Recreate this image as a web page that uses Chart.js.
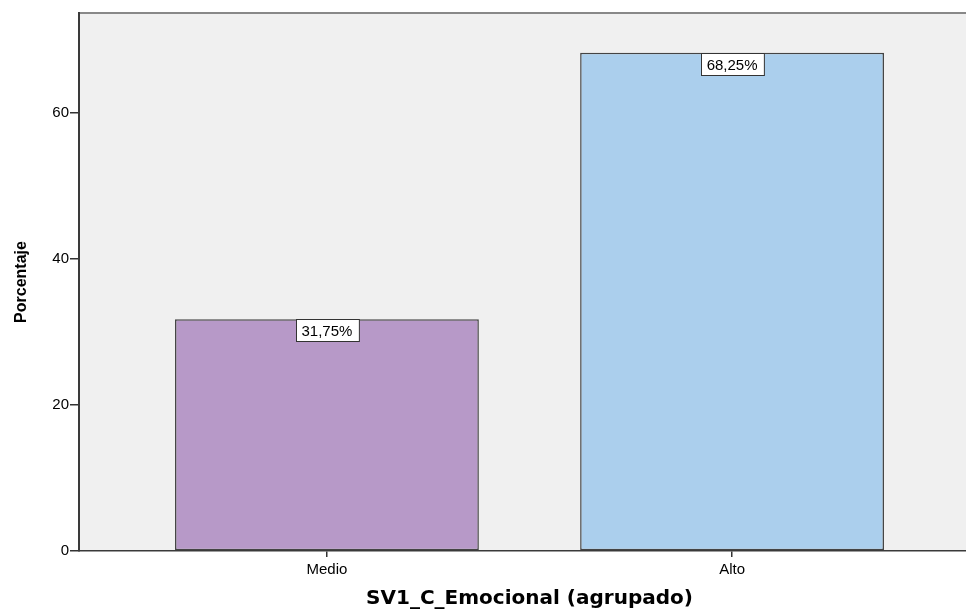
<!DOCTYPE html>
<html>
<head>
<meta charset="utf-8">
<script src="https://cdn.jsdelivr.net/npm/chart.js@4"></script>
<style>
    html, body { margin: 0; padding: 0; background: #fff; overflow: hidden; }
    #wrap { width: 980px; height: 611px; }
</style>
</head>
<body>
<div id="wrap"><canvas id="myChart"></canvas></div>
<script>
const categories = ['Medio', 'Alto'];
const percentages = [31.75, 68.25];
const barLabels = ['31,75%', '68,25%'];
const barColors = ['#b799c8', '#abcfed'];
const yTicks = [0, 20, 40, 60];

// fondo gris del área del gráfico
const plotBackground = {
    id: 'plotBackground',
    beforeDraw(chart) {
        const { ctx, chartArea: a } = chart;
        ctx.save();
        ctx.fillStyle = '#f0f0f0';
        ctx.fillRect(a.left, a.top, a.right - a.left, a.bottom - a.top);
        ctx.strokeStyle = '#888';
        ctx.lineWidth = 2;
        ctx.beginPath();
        ctx.moveTo(a.left, a.top);
        ctx.lineTo(a.right, a.top);
        ctx.stroke();
        ctx.restore();
    }
};

// etiquetas con recuadro blanco en la parte superior de cada barra
const boxLabels = {
    id: 'boxLabels',
    afterDatasetsDraw(chart) {
        const { ctx } = chart;
        const meta = chart.getDatasetMeta(0);
        ctx.save();
        ctx.font = '15px "Liberation Sans", Arial, sans-serif';
        ctx.textAlign = 'center';
        ctx.textBaseline = 'middle';
        meta.data.forEach((bar, i) => {
            const text = barLabels[i];
            const w = ctx.measureText(text).width + 12;
            const h = 22;
            const x = Math.round(bar.x - w / 2) + 0.5;
            const y = Math.round(bar.y) + 0.5;
            ctx.fillStyle = '#fff';
            ctx.fillRect(x, y, w, h);
            ctx.strokeStyle = '#333';
            ctx.lineWidth = 1;
            ctx.strokeRect(x, y, w, h);
            ctx.fillStyle = '#000';
            ctx.fillText(text, bar.x, y + h / 2 + 1);
        });
        ctx.restore();
    }
};

const ctx = document.getElementById('myChart').getContext('2d');
const myChart = new Chart(ctx, {
    type: 'bar',
    data: {
        datasets: [{
            data: percentages.map((v, i) => ({ x: i + 1, y: v })),
            backgroundColor: barColors,
            borderColor: '#444',
            borderWidth: 1.5,
            borderSkipped: false,
            barPercentage: 0.75,
            categoryPercentage: 1
        }]
    },
    options: {
        responsive: true,
        maintainAspectRatio: false,
        animation: false,
        layout: { padding: { top: 13, right: 0, left: 0, bottom: 0 } },
        plugins: {
            legend: { display: false },
            tooltip: { enabled: false }
        },
        scales: {
            x: {
                type: 'linear',
                offset: false,
                min: 0.388,
                max: 2.612,
                afterBuildTicks: (scale) => {
                    scale.ticks = categories.map((c, i) => ({ value: i + 1 }));
                },
                afterFit: (scale) => { scale.height = 60; },
                ticks: {
                    callback: (v) => categories[v - 1],
                    color: '#000',
                    padding: 4,
                    maxRotation: 0,
                    font: { family: '"Liberation Sans", Arial, sans-serif', size: 15 }
                },
                grid: { drawOnChartArea: false, offset: false, tickLength: 6, color: '#333', lineWidth: 1.5 },
                border: { color: '#3a3a3a', width: 1.5 },
                title: {
                    display: true,
                    text: 'SV1_C_Emocional (agrupado)',
                    color: '#000',
                    padding: { top: 3, bottom: 0 },
                    font: { family: '"DejaVu Sans", sans-serif', size: 20, weight: 'bold' }
                }
            },
            y: {
                min: 0,
                max: 73.7,
                afterBuildTicks: (scale) => {
                    scale.ticks = yTicks.map(v => ({ value: v }));
                },
                afterFit: (scale) => { scale.width = 79; },
                ticks: {
                    color: '#000',
                    padding: 1,
                    font: { family: '"Liberation Sans", Arial, sans-serif', size: 15 }
                },
                grid: { drawOnChartArea: false, tickLength: 9, color: '#333', lineWidth: 1.5 },
                border: { color: '#3a3a3a', width: 2 },
                title: {
                    display: true,
                    text: 'Porcentaje',
                    color: '#000',
                    padding: { top: 12, bottom: 0 },
                    font: { family: '"Liberation Sans", Arial, sans-serif', size: 16, weight: 'bold' }
                }
            }
        }
    },
    plugins: [plotBackground, boxLabels]
});
</script>
</body>
</html>
